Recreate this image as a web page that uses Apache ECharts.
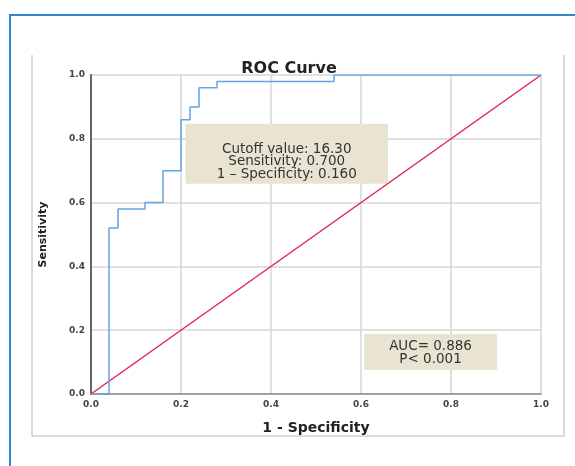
<!DOCTYPE html>
<html>
<head>
<meta charset="utf-8">
<script src="https://cdn.jsdelivr.net/npm/echarts@6/dist/echarts.min.js"></script>
<style>
html, body { margin: 0; padding: 0; background: #fff; }
#chart { width: 575px; height: 466px; }
</style>
</head>
<body>
<div id="chart"></div>
<script>
// ROC curve vertices (1 - specificity, sensitivity)
const fpr = [0, 0.04, 0.06, 0.12, 0.16, 0.20, 0.22, 0.24, 0.28, 0.54, 1.0];
const tpr = [0, 0.52, 0.58, 0.60, 0.70, 0.86, 0.90, 0.96, 0.98, 1.0, 1.0];
const refX = [0, 1];
const refY = [0, 1];
const tickLabels = ['0.0', '0.2', '0.4', '0.6', '0.8', '1.0'];
const cutoffText = ['Cutoff value: 16.30', 'Sensitivity: 0.700', '1 \u2013 Specificity: 0.160'];
const aucText = ['AUC= 0.886', 'P< 0.001'];

const chart = echarts.init(document.getElementById('chart'));

const boxLabel = {
    show: true,
    position: 'inside',
    color: '#333',
    fontFamily: 'DejaVu Sans',
    fontSize: 13.5,
    lineHeight: 12.5,
    align: 'center',
    verticalAlign: 'middle'
};

const axisLabel = {
    color: '#444',
    fontFamily: 'DejaVu Sans',
    fontWeight: 'bold',
    fontSize: 9,
    formatter: v => tickLabels[Math.round(v * 5)]
};

chart.setOption({
    animation: false,
    title: {
        text: 'ROC Curve',
        left: 284,
        top: 56,
        textAlign: 'center',
        textStyle: { fontFamily: 'DejaVu Sans', fontWeight: 'bold', fontSize: 16, color: '#222' }
    },
    graphic: [
        { type: 'rect', shape: { x: 10, y: 15, width: 620, height: 520 }, style: { fill: null, stroke: '#2e87d3', lineWidth: 2 } },
        { type: 'polyline', shape: { points: [[32, 55], [32, 436], [564, 436], [564, 55]] }, style: { fill: null, stroke: '#cfcfcf', lineWidth: 1.5 } }
    ],
    grid: { left: 91, right: 34, top: 75, bottom: 72 },
    xAxis: {
        type: 'value', min: 0, max: 1, interval: 0.2,
        name: '1 - Specificity',
        nameLocation: 'middle',
        nameGap: 27,
        nameTextStyle: { fontFamily: 'DejaVu Sans', fontWeight: 'bold', fontSize: 14, color: '#222' },
        axisLine: { show: true, lineStyle: { color: '#8a8a8a', width: 1.5 } },
        axisTick: { show: false },
        axisLabel: Object.assign({ margin: 6 }, axisLabel),
        splitLine: { show: true, lineStyle: { color: '#d6d6d6', width: 1.5 } }
    },
    yAxis: {
        type: 'value', min: 0, max: 1, interval: 0.2,
        name: 'Sensitivity',
        nameLocation: 'middle',
        nameGap: 42,
        nameTextStyle: { fontFamily: 'DejaVu Sans', fontWeight: 'bold', fontSize: 11, color: '#222' },
        axisLine: { show: true, lineStyle: { color: '#666', width: 2 } },
        axisTick: { show: false },
        axisLabel: Object.assign({ margin: 6 }, axisLabel),
        splitLine: { show: true, lineStyle: { color: '#d6d6d6', width: 1.5 } }
    },
    series: [
        {
            type: 'line',
            data: refX.map((x, i) => [x, refY[i]]),
            symbol: 'none',
            lineStyle: { color: '#e0245e', width: 1.5 },
            markArea: {
                silent: true,
                itemStyle: { color: '#e9e3d1' },
                label: boxLabel,
                data: [
                    [{ coord: [0.21, 0.847], name: cutoffText.join('\n'), label: { offset: [0, 8] } }, { coord: [0.66, 0.659] }],
                    [{ coord: [0.607, 0.188], name: aucText.join('\n'), label: { offset: [0, 1] } }, { coord: [0.902, 0.075] }]
                ]
            }
        },
        {
            type: 'line',
            step: 'end',
            data: fpr.map((x, i) => [x, tpr[i]]),
            symbol: 'none',
            lineStyle: { color: '#66a3e0', width: 1.5 },
            z: 3
        }
    ]
});
</script>
</body>
</html>
